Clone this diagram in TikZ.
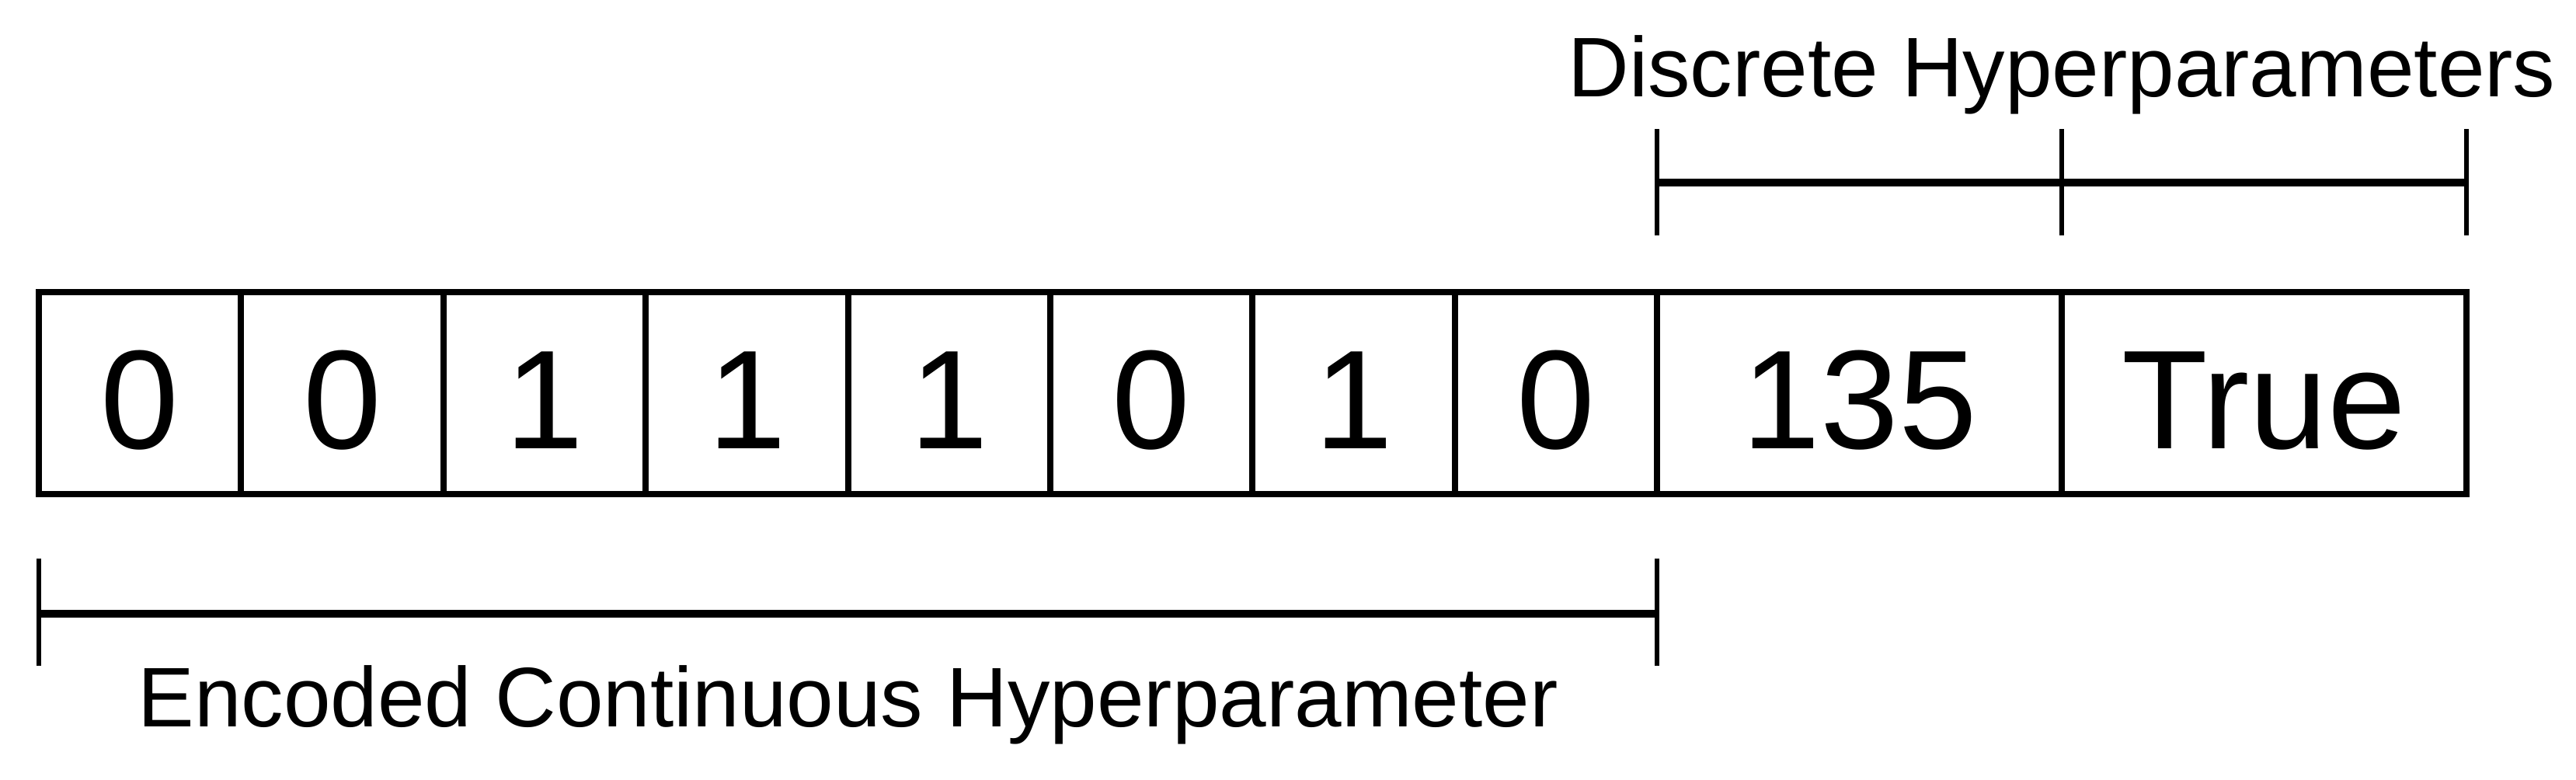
\documentclass[tikz,border=0pt]{standalone}
\usepackage{fontspec}
\setmainfont{Liberation Sans}
\usetikzlibrary{positioning}

\begin{document}
\begin{tikzpicture}[
    cell/.style={draw, line width=0.87pt, minimum width=1cm, minimum height=1cm, inner sep=0pt, outer sep=0pt,
      font=\fontsize{19.8}{20}\selectfont, text height=15.5pt, text depth=0pt},
    wide/.style={cell, minimum width=2cm},
    brace/.style={line width=1.1pt},
    tick/.style={line width=0.65pt},
    lbl/.style={font=\fontsize{11.9}{12}\selectfont, inner sep=0pt, anchor=base}]
    \useasboundingbox (-0.192, -2.408) rectangle (12.542, 1.444);

    \node[cell] (c1) at (0.5, -0.5) {0};
    \foreach [count=\i from 2] \b in {0, 1, 1, 1, 0, 1, 0} {
      \pgfmathtruncatemacro{\j}{\i-1}
      \node[cell, right=0pt of c\j] (c\i) {\b};
    }
    \node[wide, right=0pt of c8] (d1) {135};
    \node[wide, right=0pt of d1] (d2) {True};

    \draw[brace] ([yshift=0.541cm]d1.north west) -- ([yshift=0.541cm]d2.north east);
    \foreach \a in {d1.north west, d1.north east, d2.north east}
      \draw[tick] ([yshift=0.28cm]\a) -- ([yshift=0.806cm]\a);
    \node[lbl] (disc) at (10, 0.964) {Discrete Hyperparameters};

    \draw[brace] ([yshift=-0.59cm]c1.south west) -- ([yshift=-0.59cm]c8.south east);
    \foreach \a in {c1.south west, c8.south east}
      \draw[tick] ([yshift=-0.317cm]\a) -- ([yshift=-0.847cm]\a);
    \node[lbl] (cont) at (4, -2.147) {Encoded Continuous Hyperparameter};
\end{tikzpicture}
\end{document}
